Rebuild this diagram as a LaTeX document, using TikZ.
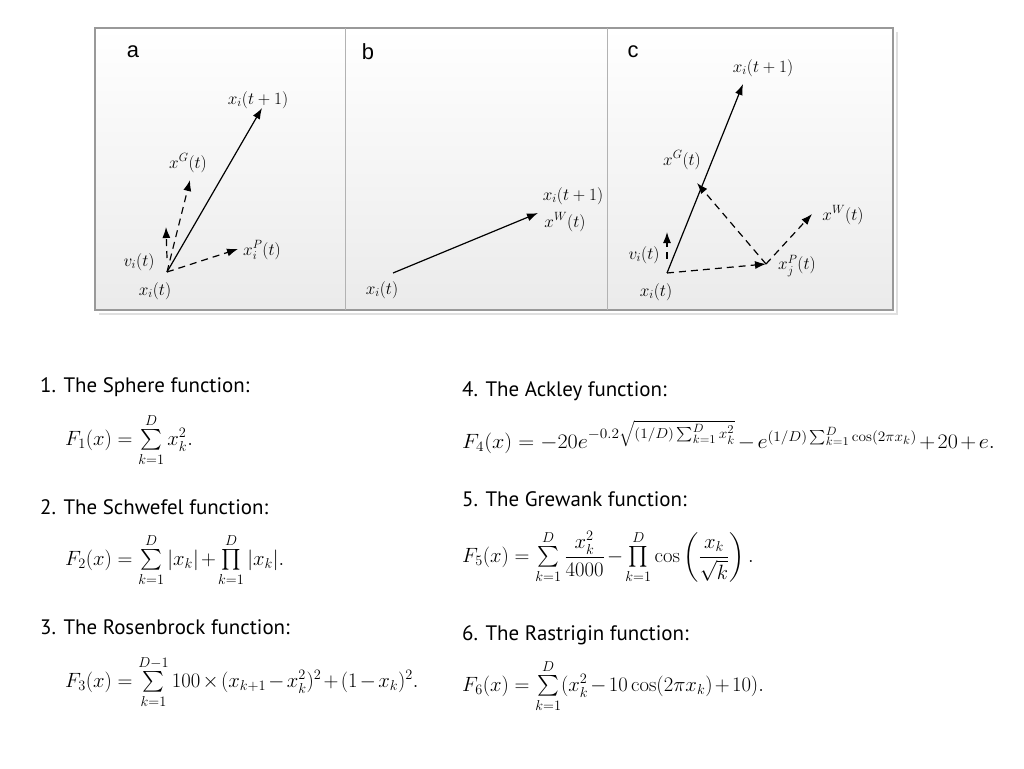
\documentclass[tikz,border=0pt]{standalone}
\usepackage{fontspec}
\usepackage{amsmath}
\usepackage{graphicx}
\usetikzlibrary{arrows.meta, positioning, calc}
\newfontfamily\panelfont{Liberation Sans}
\newfontfamily\listfont{PT Sans}
\tikzset{
  panel/.style  = {font=\panelfont\fontsize{22}{24}\selectfont, inner sep=0pt},
  vlabel/.style = {font=\fontsize{17.28}{19}\selectfont, inner sep=1pt},
  move/.style   = {-{Latex[length=11bp, width=8bp]}, line width=1.2bp, draw=black},
  pull/.style   = {move, dash pattern=on 7bp off 5bp},
  title/.style  = {anchor=base west, font=\listfont\fontsize{21}{23}\selectfont, inner sep=0pt},
  formula/.style= {anchor=west, font=\fontsize{20.74}{22}\selectfont, inner sep=0pt,
                   execute at begin node={\medmuskip=2mu\relax}}
}
\begin{document}
\begin{tikzpicture}[x=1bp, y=-1bp]
\useasboundingbox (0,0) rectangle (1024,769);
% Frame with three panels
\shade[top color=white, bottom color=gray!16] (95,28) rectangle (893,310);
\draw[gray!25, line width=2bp] (897,32) -- (897,314) -- (99,314);
\draw[gray!80, line width=1.2bp] (95,28) rectangle (893,310);
\foreach \x in {345, 607} {
  \draw[gray!60, line width=1bp] (\x,28) -- (\x,310);
}
\node[panel] (pa) at (133,52) {a};
\node[panel] (pb) at (368,52) {b};
\node[panel] (pc) at (633,52) {c};
% Panel a
\coordinate (a0) at (167,272);
\coordinate (a1) at (262,108);
\coordinate (aG) at (190,180);
\coordinate (aP) at (238,249);
\coordinate (av) at (166,227);
\draw[move] (a0) -- (a1);
\draw[pull] (a0) -- (aG);
\draw[pull] (a0) -- (aP);
\draw[pull] ($(a0)+(0,-14)$) -- (av);
\node[vlabel] (la1) at (258,100) {$x_i(t+1)$};
\node[vlabel] (laG) at (188,163) {$x^G(t)$};
\node[vlabel] (lav) at (139,262) {$v_i(t)$};
\node[vlabel] (laP) at (262,250) {$x_i^P(t)$};
\node[vlabel] (la0) at (155,291) {$x_i(t)$};
% Panel b
\coordinate (b0) at (393,273);
\coordinate (b1) at (538,213);
\draw[move] (b0) -- (b1);
\node[vlabel] (lb0) at (382,290) {$x_i(t)$};
\node[vlabel] (lb1) at (573,196) {$x_i(t+1)$};
\node[vlabel] (lbW) at (565,222) {$x^W(t)$};
% Panel c
\coordinate (c0) at (667,273);
\coordinate (c1) at (743,84);
\coordinate (cG) at (697,183);
\coordinate (cP) at (766,264);
\coordinate (cW) at (812,214);
\coordinate (cv) at (667,232);
\draw[move] (c0) -- (c1);
\draw[pull] (c0) -- (cP);
\draw[pull] (cP) -- (cG);
\draw[pull] (cP) -- (cW);
\draw[pull] ($(c0)+(0,-14)$) -- (cv);
\node[vlabel] (lc1) at (763,68) {$x_i(t+1)$};
\node[vlabel] (lcG) at (682,160) {$x^G(t)$};
\node[vlabel] (lcW) at (843,215) {$x^W(t)$};
\node[vlabel] (lcv) at (644,255) {$v_i(t)$};
\node[vlabel] (lcP) at (797,266) {$x_j^P(t)$};
\node[vlabel] (lc0) at (656,292) {$x_i(t)$};
% Benchmark functions, left column
\node[title] (t1) at (40,392) {1. The Sphere function:};
\node[formula] (f1) at (65,440) {$F_1(x) = \sum\limits_{k=1}^{D} x_k^2.$};
\node[title] (t2) at (40,514) {2. The Schwefel function:};
\node[formula] (f2) at (65,560) {$F_2(x) = \sum\limits_{k=1}^{D} |x_k| + \prod\limits_{k=1}^{D} |x_k|.$};
\node[title] (t3) at (40,634) {3. The Rosenbrock function:};
\node[formula] (f3) at (65,682) {$F_3(x) = \sum\limits_{k=1}^{D-1} 100 \times (x_{k+1}-x_k^2)^2 + (1-x_k)^2.$};
% Benchmark functions, right column
\node[title] (t4) at (462,396) {4. The Ackley function:};
\node[formula] (f4) at (462,437) {\scalebox{1.07}[1]{$F_4(x) = -20e^{-0.2\sqrt{(1/D)\sum_{k=1}^{D} x_k^2}} - e^{(1/D)\sum_{k=1}^{D}\cos(2\pi x_k)} + 20 + e.$}};
\node[title] (t5) at (462,506) {5. The Grewank function:};
\node[formula] (f5) at (462,557) {$F_5(x) = \sum\limits_{k=1}^{D} \dfrac{x_k^2}{4000} - \prod\limits_{k=1}^{D} \cos\left(\dfrac{x_k}{\sqrt{k}}\right).$};
\node[title] (t6) at (462,640) {6. The Rastrigin function:};
\node[formula] (f6) at (462,686) {$F_6(x) = \sum\limits_{k=1}^{D} (x_k^2 - 10\cos(2\pi x_k) + 10).$};
\end{tikzpicture}
\end{document}
